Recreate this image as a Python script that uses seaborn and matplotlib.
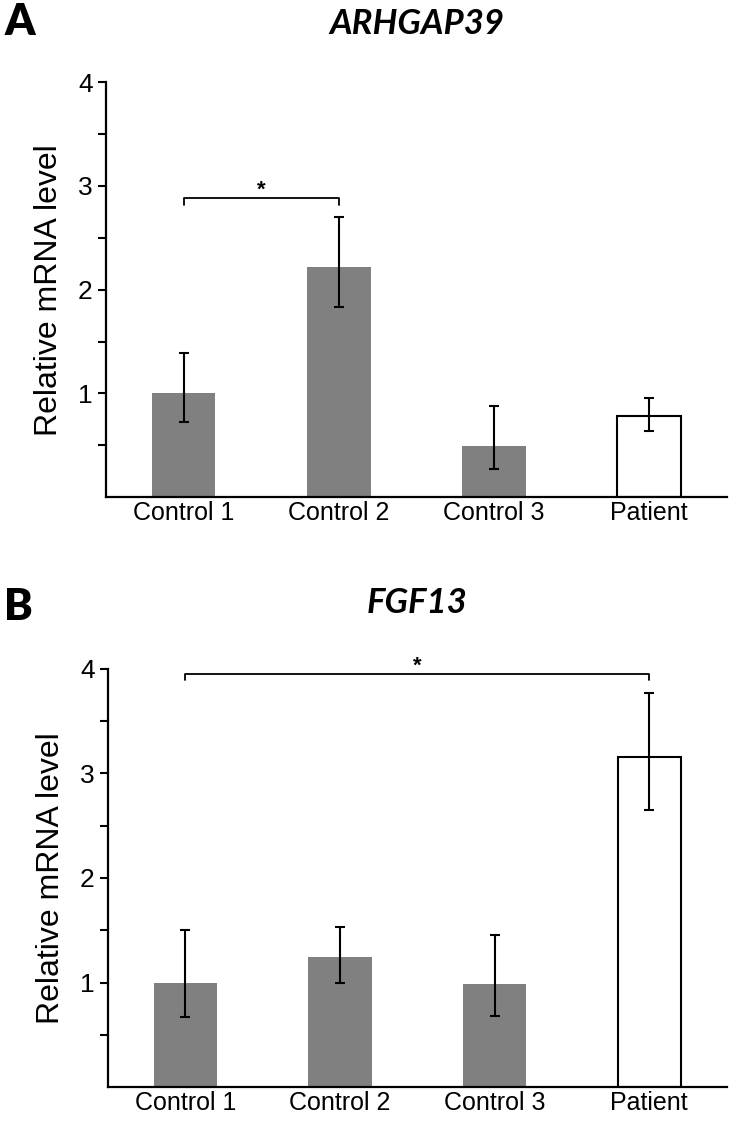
import matplotlib
matplotlib.use("Agg")
import matplotlib.pyplot as plt
import seaborn as sns
import pandas as pd

# values
categories = ["Control 1", "Control 2", "Control 3", "Patient"]
bar_colors = ["#808080", "#808080", "#808080", "white"]

arhgap39_mean = [1.00, 2.22, 0.49, 0.78]
arhgap39_upper = [1.39, 2.70, 0.88, 0.96]
arhgap39_lower = [0.72, 1.83, 0.27, 0.64]

fgf13_mean = [1.00, 1.24, 0.99, 3.16]
fgf13_upper = [1.50, 1.53, 1.45, 3.77]
fgf13_lower = [0.67, 1.00, 0.68, 2.65]

sns.set_style("ticks")
plt.rcParams["font.family"] = ["Liberation Sans", "DejaVu Sans"]
plt.rcParams["text.color"] = "black"
plt.rcParams["axes.labelcolor"] = "black"

fig = plt.figure(figsize=(7.33, 11.21), dpi=100)
ax_a = fig.add_axes([0.1446, 0.5566, 0.847, 0.370])
ax_b = fig.add_axes([0.1473, 0.0303, 0.844, 0.373])


def draw_panel(ax, mean, lower, upper, title, title_pad, bracket, star_y):
    df = pd.DataFrame({"group": categories, "value": mean})
    sns.barplot(data=df, x="group", y="value", hue="group",
                palette=dict(zip(categories, bar_colors)), legend=False,
                width=0.41, ax=ax, saturation=1, errorbar=None)
    for patch, col in zip(ax.patches, bar_colors):
        if col == "white":
            patch.set_edgecolor("black")
            patch.set_linewidth(1.5)
        else:
            patch.set_edgecolor(col)
            patch.set_linewidth(0)
    yerr = [[m - lo for m, lo in zip(mean, lower)],
            [up - m for m, up in zip(mean, upper)]]
    ax.errorbar(range(len(categories)), mean, yerr=yerr, fmt="none",
                ecolor="black", elinewidth=1.5, capsize=3.6, capthick=1.5)

    # significance bracket
    x0, x1, yb = bracket
    ax.plot([x0, x0, x1, x1], [yb - 0.06, yb, yb, yb - 0.06],
            color="black", lw=1.3, clip_on=False)
    ax.text((x0 + x1) / 2, star_y, "*", ha="center", va="center",
            fontsize=16, fontweight="bold")

    ax.set_xlim(-0.5, 3.5)
    ax.set_ylim(0, 4)
    ax.set_yticks([1, 2, 3, 4])
    ax.set_yticks([0.5, 1.5, 2.5, 3.5], minor=True)
    ax.tick_params(axis="y", which="both", length=6, width=1.5,
                   labelsize=19, colors="black", direction="out")
    ax.tick_params(axis="x", length=0, labelsize=18, pad=3,
                   labelcolor="black")
    ax.set_xlabel("")
    ax.set_ylabel("Relative mRNA level", fontsize=23, labelpad=10)
    sns.despine(ax=ax)
    for side in ["left", "bottom"]:
        ax.spines[side].set_linewidth(1.6)
        ax.spines[side].set_color("black")
    ax.set_title(title, fontsize=25, fontweight="bold", fontstyle="italic",
                 family=["Lato", "DejaVu Sans"], pad=title_pad)


draw_panel(ax_a, arhgap39_mean, arhgap39_lower, arhgap39_upper,
           "ARHGAP39", 35, (0, 1, 2.88), 2.96)
draw_panel(ax_b, fgf13_mean, fgf13_lower, fgf13_upper,
           "FGF13", 40, (0, 3, 3.95), 4.03)

# panel letters
fig.text(0.006, 1 - 35 / 1121, "A", fontsize=31, fontweight="heavy",
         family=["Lato", "DejaVu Sans"], ha="left", va="baseline")
fig.text(0.006, 1 - 620 / 1121, "B", fontsize=31, fontweight="heavy",
         family=["Lato", "DejaVu Sans"], ha="left", va="baseline")

fig.savefig("out.png", dpi=100)
